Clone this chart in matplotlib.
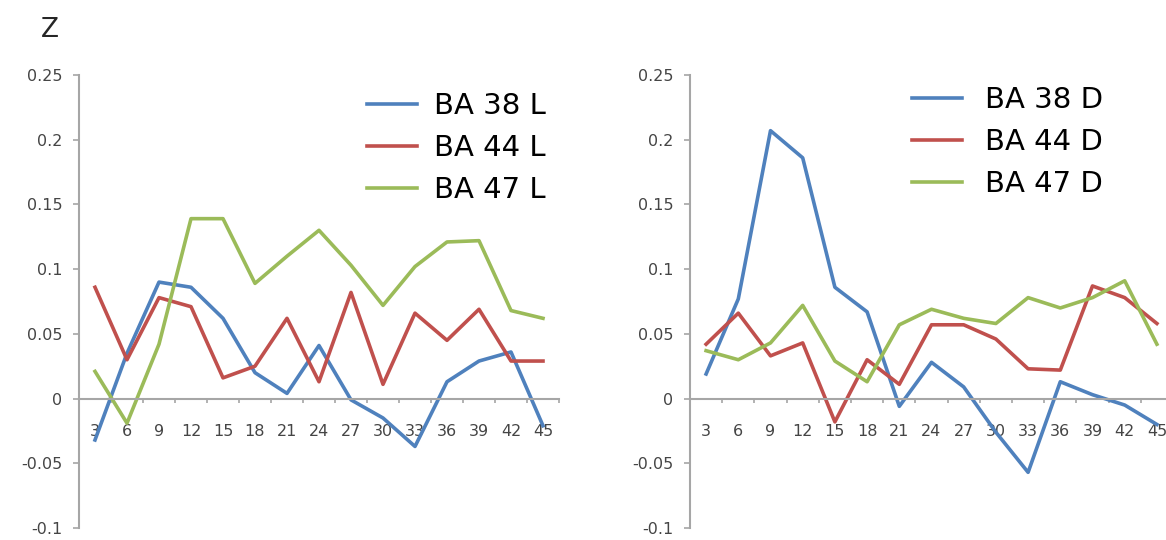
import numpy as np
import matplotlib
matplotlib.use("Agg")
from matplotlib import pyplot as plt

plt.rcParams['font.family'] = ['DejaVu Sans']

lags = ['3', '6', '9', '12', '15', '18', '21', '24', '27', '30', '33', '36', '39', '42', '45']

# левая панель (L)
ba38_l = [-0.032, 0.035, 0.090, 0.086, 0.062, 0.020, 0.004, 0.041, -0.001, -0.015, -0.037, 0.013, 0.029, 0.036, -0.021]
ba44_l = [0.086, 0.030, 0.078, 0.071, 0.016, 0.025, 0.062, 0.013, 0.082, 0.011, 0.066, 0.045, 0.069, 0.029, 0.029]
ba47_l = [0.021, -0.019, 0.042, 0.139, 0.139, 0.089, 0.110, 0.130, 0.103, 0.072, 0.102, 0.121, 0.122, 0.068, 0.062]

# правая панель (D)
ba38_d = [0.019, 0.077, 0.207, 0.186, 0.086, 0.067, -0.006, 0.028, 0.009, -0.026, -0.057, 0.013, 0.003, -0.005, -0.020]
ba44_d = [0.042, 0.066, 0.033, 0.043, -0.018, 0.030, 0.011, 0.057, 0.057, 0.046, 0.023, 0.022, 0.087, 0.078, 0.058]
ba47_d = [0.037, 0.030, 0.043, 0.072, 0.029, 0.013, 0.057, 0.069, 0.062, 0.058, 0.078, 0.070, 0.078, 0.091, 0.042]

yticks = [-0.1, -0.05, 0, 0.05, 0.1, 0.15, 0.2, 0.25]
ytick_labels = ['-0.1', '-0.05', '0', '0.05', '0.1', '0.15', '0.2', '0.25']

colors = ['#4F81BD', '#C0504D', '#9BBB59']
grey = '#454545'
axis_grey = '#A6A6A6'

W, H = 1166, 540
fig = plt.figure(figsize=(W / 100, H / 100), dpi=100)


def panel(rect, series, names, leg_anchor, textpad):
    ax = fig.add_axes(rect)
    x = np.arange(len(lags))
    for s, c, n in zip(series, colors, names):
        ax.plot(x, s, color=c, lw=2.6, label=n)
    ax.set_xlim(-0.5, len(lags) - 0.5)
    ax.set_ylim(-0.1, 0.25)
    ax.set_yticks(yticks)
    ax.set_yticklabels(ytick_labels)
    ax.set_xticks(x)
    ax.set_xticklabels(lags)
    ax.set_xticks(np.arange(-0.5, len(lags)), minor=True)
    ax.spines['top'].set_visible(False)
    ax.spines['right'].set_visible(False)
    ax.spines['bottom'].set_position(('data', 0))
    for sp in ['bottom', 'left']:
        ax.spines[sp].set_color(axis_grey)
        ax.spines[sp].set_linewidth(1.5)
    ax.tick_params(axis='y', colors=axis_grey, labelcolor=grey, labelsize=11.5, length=4, width=1.2, pad=8)
    ax.tick_params(axis='x', which='major', length=0, labelcolor=grey, labelsize=11.5, pad=18)
    ax.tick_params(axis='x', which='minor', colors=axis_grey, length=3, width=1.2, direction='out')
    ax.patch.set_visible(False)
    ax.legend(loc='upper left', bbox_to_anchor=leg_anchor, bbox_transform=fig.transFigure,
              frameon=False, fontsize=21, handlelength=1.7, handletextpad=textpad,
              labelspacing=0.48, borderpad=0, borderaxespad=0)
    return ax


panel([79 / W, 12 / H, 480 / W, 453 / H], [ba38_l, ba44_l, ba47_l],
      ['BA 38 L', 'BA 44 L', 'BA 47 L'], (367 / W, 1 - 92 / H), 0.6)
panel([690 / W, 12 / H, 483 / W, 453 / H], [ba38_d, ba44_d, ba47_d],
      ['BA 38 D', 'BA 44 D', 'BA 47 D'], (912 / W, 1 - 86 / H), 0.8)

fig.text(41 / W, 1 - 30 / H, 'Z', fontsize=19, color='#262626', va='center', ha='left')

fig.savefig('out.png', dpi=100)
